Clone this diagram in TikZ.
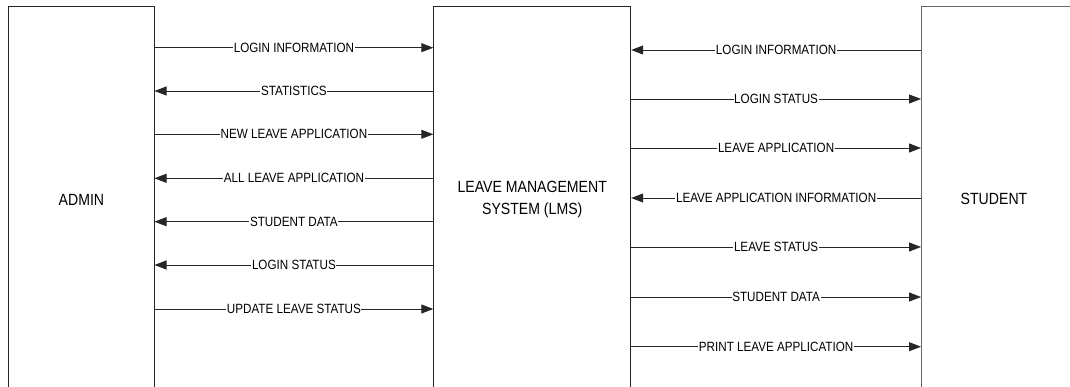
\documentclass[tikz,border=0pt]{standalone}
\usepackage{fontspec}
\setmainfont[FakeStretch=0.87]{Liberation Sans}
\usetikzlibrary{arrows.meta}
\begin{document}
\begin{tikzpicture}[x=1pt,y=-1pt,
  entity/.style={draw=black!85,line width=0.9pt,rectangle,minimum height=386pt,
    inner sep=0pt,font=\fontsize{16.2}{21.5}\selectfont,align=center,anchor=north west},
  flow/.style={draw=black!85,line width=0.9pt,-{Triangle[length=12pt,width=9pt]}},
  tag/.style={fill=white,inner xsep=0.6pt,inner ysep=1pt,font=\fontsize{13.4}{15}\selectfont}]
\useasboundingbox (0,0) rectangle (1070,387);
% the three entities (their lower edges run off the page)
\node[entity,minimum width=145.3pt] (admin) at (8.3,6) {ADMIN};
\node[entity,minimum width=197pt] (lms) at (433.3,6) {LEAVE MANAGEMENT\\SYSTEM (LMS)};
\node[entity,minimum width=200pt,draw=black!60] (student) at (921,6) {};
\node[font=\fontsize{16.2}{21.5}\selectfont] (stxt) at (994,199) {STUDENT};
% row heights
\foreach \n/\y in {1/47.7,2/91,3/134.3,4/178.3,5/221.7,6/265,7/309}
  \coordinate (a\n) at (0,\y);
\foreach \n/\y in {1/50,2/99,3/148,4/198,5/247,6/297,7/346.7}
  \coordinate (s\n) at (0,\y);
% admin <-> LMS
\draw[flow] (admin.east |- a1) -- node[tag]{LOGIN INFORMATION} (lms.west |- a1);
\draw[flow] (lms.west |- a2) -- node[tag]{STATISTICS} (admin.east |- a2);
\draw[flow] (admin.east |- a3) -- node[tag]{NEW LEAVE APPLICATION} (lms.west |- a3);
\draw[flow] (lms.west |- a4) -- node[tag]{ALL LEAVE APPLICATION} (admin.east |- a4);
\draw[flow] (lms.west |- a5) -- node[tag]{STUDENT DATA} (admin.east |- a5);
\draw[flow] (lms.west |- a6) -- node[tag]{LOGIN STATUS} (admin.east |- a6);
\draw[flow] (admin.east |- a7) -- node[tag]{UPDATE LEAVE STATUS} (lms.west |- a7);
% LMS <-> student
\draw[flow] (student.west |- s1) -- node[tag]{LOGIN INFORMATION} (lms.east |- s1);
\draw[flow] (lms.east |- s2) -- node[tag]{LOGIN STATUS} (student.west |- s2);
\draw[flow] (lms.east |- s3) -- node[tag]{LEAVE APPLICATION} (student.west |- s3);
\draw[flow] (student.west |- s4) -- node[tag]{LEAVE APPLICATION INFORMATION} (lms.east |- s4);
\draw[flow] (lms.east |- s5) -- node[tag]{LEAVE STATUS} (student.west |- s5);
\draw[flow] (lms.east |- s6) -- node[tag]{STUDENT DATA} (student.west |- s6);
\draw[flow] (lms.east |- s7) -- node[tag]{PRINT LEAVE APPLICATION} (student.west |- s7);
\end{tikzpicture}
\end{document}
